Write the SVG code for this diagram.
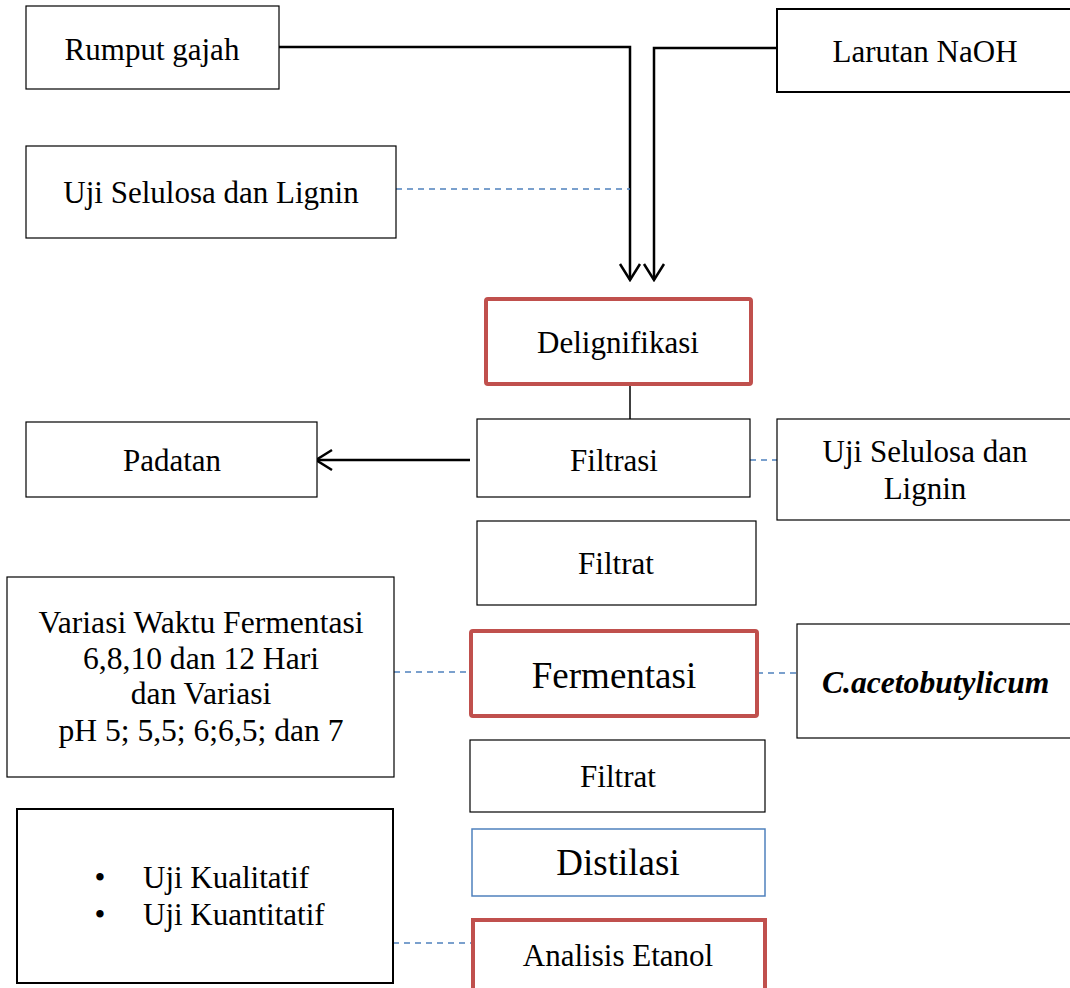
<svg xmlns="http://www.w3.org/2000/svg" width="1070" height="988" viewBox="0 0 1070 988">
  <style>
    .box { fill: #fff; stroke: #000; stroke-width: 1.2; }
    .box-red { fill: #fff; stroke: #c0504d; stroke-width: 4; }
    .box-blue { fill: #fff; stroke: #4f81bd; stroke-width: 1.5; }
    .box-thick { fill: #fff; stroke: #000; stroke-width: 2; }
    .label { font-family: "Liberation Serif", "Times New Roman", serif; font-size: 31px; fill: #000; text-anchor: middle; }
    .big { font-size: 37px; }
    .mid { font-size: 31.6px; }
    .start { text-anchor: start; }
    .flow { fill: none; stroke: #000; stroke-width: 2.5; }
    .thin { fill: none; stroke: #000; stroke-width: 1.5; }
    .dash { fill: none; stroke: #4f81bd; stroke-width: 1.5; stroke-dasharray: 6 5; }
  </style>
  <defs>
    <marker id="arrow" viewBox="0 0 20 24" refX="18" refY="12" markerWidth="20" markerHeight="24" markerUnits="userSpaceOnUse" orient="auto">
      <path d="M2 2 L18 12 L2 22" fill="none" stroke="#000" stroke-width="2.5"/>
    </marker>
  </defs>
  <rect width="1070" height="988" fill="#fff"/>

  <g id="connectors">
    <path class="flow" d="M279 47 H630 V280" marker-end="url(#arrow)"/>
    <path class="flow" d="M776 48 H654 V280" marker-end="url(#arrow)"/>
    <path class="dash" d="M396 189 H630"/>
    <path class="thin" d="M630 385 V419"/>
    <path class="flow" d="M470 460 H316" marker-end="url(#arrow)"/>
    <path class="dash" d="M750 460 H777"/>
    <path class="dash" d="M394 672 H471"/>
    <path class="dash" d="M757 673 H797"/>
    <path class="dash" d="M393 943 H473"/>
  </g>

  <g id="rumput-gajah">
    <rect class="box" x="26" y="6" width="253" height="83"/>
    <text class="label" x="152" y="60">Rumput gajah</text>
  </g>
  <g id="larutan-naoh">
    <rect class="box-thick" x="777" y="9" width="300" height="83"/>
    <text class="label" x="925" y="62">Larutan NaOH</text>
  </g>
  <g id="uji-selulosa-1">
    <rect class="box" x="26" y="146" width="370" height="92"/>
    <text class="label" x="211" y="203">Uji Selulosa dan Lignin</text>
  </g>
  <g id="delignifikasi">
    <rect class="box-red" x="486" y="299" width="265" height="85" rx="2"/>
    <text class="label" x="618" y="353">Delignifikasi</text>
  </g>
  <g id="padatan">
    <rect class="box" x="26" y="422" width="291" height="75"/>
    <text class="label" x="172" y="471">Padatan</text>
  </g>
  <g id="filtrasi">
    <rect class="box" x="477" y="419" width="273" height="78"/>
    <text class="label" x="614" y="471">Filtrasi</text>
  </g>
  <g id="uji-selulosa-2">
    <rect class="box" x="777" y="419" width="300" height="101"/>
    <text class="label" x="925" y="462">Uji Selulosa dan</text>
    <text class="label" x="925" y="499">Lignin</text>
  </g>
  <g id="filtrat-1">
    <rect class="box" x="477" y="521" width="279" height="84"/>
    <text class="label" x="616" y="574">Filtrat</text>
  </g>
  <g id="variasi">
    <rect class="box" x="7" y="577" width="387" height="200"/>
    <text class="label mid" x="201" y="633">Variasi Waktu Fermentasi</text>
    <text class="label mid" x="201" y="669">6,8,10 dan 12 Hari</text>
    <text class="label mid" x="201" y="704">dan Variasi</text>
    <text class="label mid" x="201" y="741">pH 5; 5,5; 6;6,5; dan 7</text>
  </g>
  <g id="fermentasi">
    <rect class="box-red" x="471" y="631" width="286" height="85" rx="2"/>
    <text class="label big" x="614" y="688">Fermentasi</text>
  </g>
  <g id="c-acetobutylicum">
    <rect class="box" x="797" y="624" width="280" height="114"/>
    <text class="label start mid" x="822" y="693" style="font-weight:bold;font-style:italic">C.acetobutylicum</text>
  </g>
  <g id="filtrat-2">
    <rect class="box" x="470" y="740" width="295" height="72"/>
    <text class="label" x="618" y="787">Filtrat</text>
  </g>
  <g id="distilasi">
    <rect class="box-blue" x="472" y="829" width="293" height="67"/>
    <text class="label big" x="618" y="875">Distilasi</text>
  </g>
  <g id="uji-analisis">
    <rect class="box-thick" x="17" y="809" width="376" height="174"/>
    <text class="label" x="100" y="888">•</text>
    <text class="label start" x="143" y="888">Uji Kualitatif</text>
    <text class="label" x="100" y="925">•</text>
    <text class="label start" x="143" y="925">Uji Kuantitatif</text>
  </g>
  <g id="analisis-etanol">
    <rect class="box-red" x="473" y="920" width="292" height="80"/>
    <text class="label" x="618" y="966">Analisis Etanol</text>
  </g>
</svg>
